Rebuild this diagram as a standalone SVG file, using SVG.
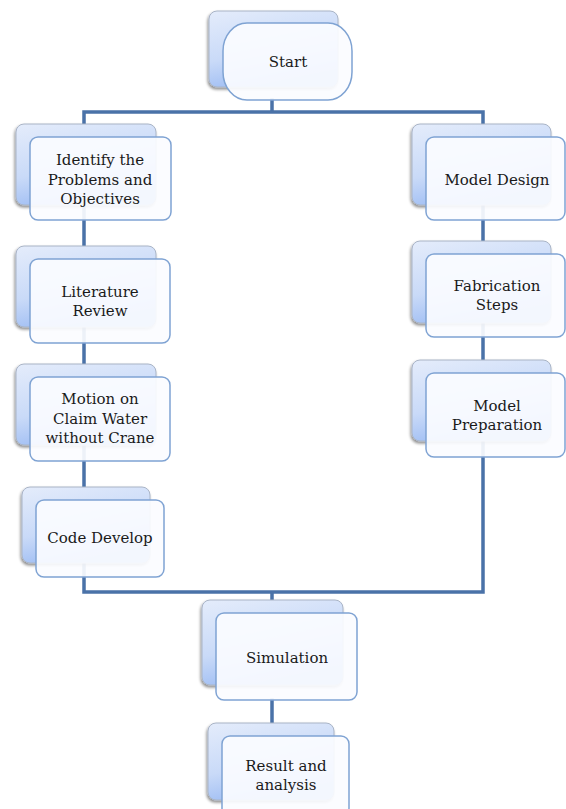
<svg xmlns="http://www.w3.org/2000/svg" width="566" height="809" viewBox="0 0 566 809">
<defs>
<linearGradient id="bg" x1="0" y1="0" x2="0.35" y2="1">
<stop offset="0" stop-color="#e4ecfb"/>
<stop offset="0.6" stop-color="#c9daf8"/>
<stop offset="1" stop-color="#9dbcf3"/>
</linearGradient>
<filter id="sh" x="-10%" y="-10%" width="125%" height="125%">
<feGaussianBlur in="SourceAlpha" stdDeviation="1.5"/>
<feOffset dx="-1" dy="2"/>
<feComponentTransfer><feFuncA type="linear" slope="0.45"/></feComponentTransfer>
<feMerge><feMergeNode/><feMergeNode in="SourceGraphic"/></feMerge>
</filter>
<style>
.back{fill:url(#bg);stroke:#a9b4c6;stroke-width:1;filter:url(#sh)}
.front{fill:#fbfcff;fill-opacity:0.92;stroke:#7fa3d3;stroke-width:1.5}
.t{font-family:"DejaVu Serif","Liberation Serif",serif;font-size:15px;fill:#1a1a1a;text-anchor:middle}
.c{fill:none;stroke:#4a72a8;stroke-width:3.5;stroke-linecap:square}
</style>
</defs>
<g id="connectors">
<path class="c" d="M272,100 V112 M84,112 H483 M84,112 V592 H483 V112 M272,592 V613 M272,700 V723"/>
</g>
<g id="start">
<rect class="back" x="209" y="11" width="129" height="76" rx="8"/>
<rect class="front" x="223" y="23" width="129" height="77" rx="24" ry="28"/>
<text class="t" x="288" y="67">Start</text>
</g>
<g id="identify">
<rect class="back" x="16" y="124" width="140" height="81" rx="8"/>
<rect class="front" x="30" y="137" width="141" height="83" rx="8"/>
<text class="t" x="100" y="165">Identify the</text>
<text class="t" x="100" y="185">Problems and</text>
<text class="t" x="100" y="204">Objectives</text>
</g>
<g id="literature">
<rect class="back" x="16" y="246" width="140" height="81" rx="8"/>
<rect class="front" x="30" y="259" width="140" height="84" rx="8"/>
<text class="t" x="100" y="297">Literature</text>
<text class="t" x="100" y="316">Review</text>
</g>
<g id="motion">
<rect class="back" x="16" y="364" width="140" height="81" rx="8"/>
<rect class="front" x="30" y="377" width="140" height="84" rx="8"/>
<text class="t" x="100" y="404">Motion on</text>
<text class="t" x="100" y="424">Claim Water</text>
<text class="t" x="100" y="443">without Crane</text>
</g>
<g id="code">
<rect class="back" x="22" y="487" width="128" height="76" rx="8"/>
<rect class="front" x="36" y="500" width="128" height="77" rx="8"/>
<text class="t" x="100" y="543">Code Develop</text>
</g>
<g id="modeldesign">
<rect class="back" x="412" y="124" width="139" height="81" rx="8"/>
<rect class="front" x="426" y="137" width="139" height="83" rx="8"/>
<text class="t" x="497" y="185">Model Design</text>
</g>
<g id="fabrication">
<rect class="back" x="412" y="241" width="139" height="82" rx="8"/>
<rect class="front" x="426" y="254" width="139" height="83" rx="8"/>
<text class="t" x="497" y="291">Fabrication</text>
<text class="t" x="497" y="310">Steps</text>
</g>
<g id="preparation">
<rect class="back" x="412" y="360" width="139" height="81" rx="8"/>
<rect class="front" x="426" y="373" width="139" height="84" rx="8"/>
<text class="t" x="497" y="411">Model</text>
<text class="t" x="497" y="430">Preparation</text>
</g>
<g id="simulation">
<rect class="back" x="202" y="600" width="141" height="85" rx="8"/>
<rect class="front" x="216" y="613" width="141" height="87" rx="8"/>
<text class="t" x="287" y="663">Simulation</text>
</g>
<g id="result">
<rect class="back" x="208" y="723" width="126" height="77" rx="8"/>
<rect class="front" x="222" y="736" width="127" height="80" rx="8"/>
<text class="t" x="286" y="771">Result and</text>
<text class="t" x="286" y="790">analysis</text>
</g>
</svg>
